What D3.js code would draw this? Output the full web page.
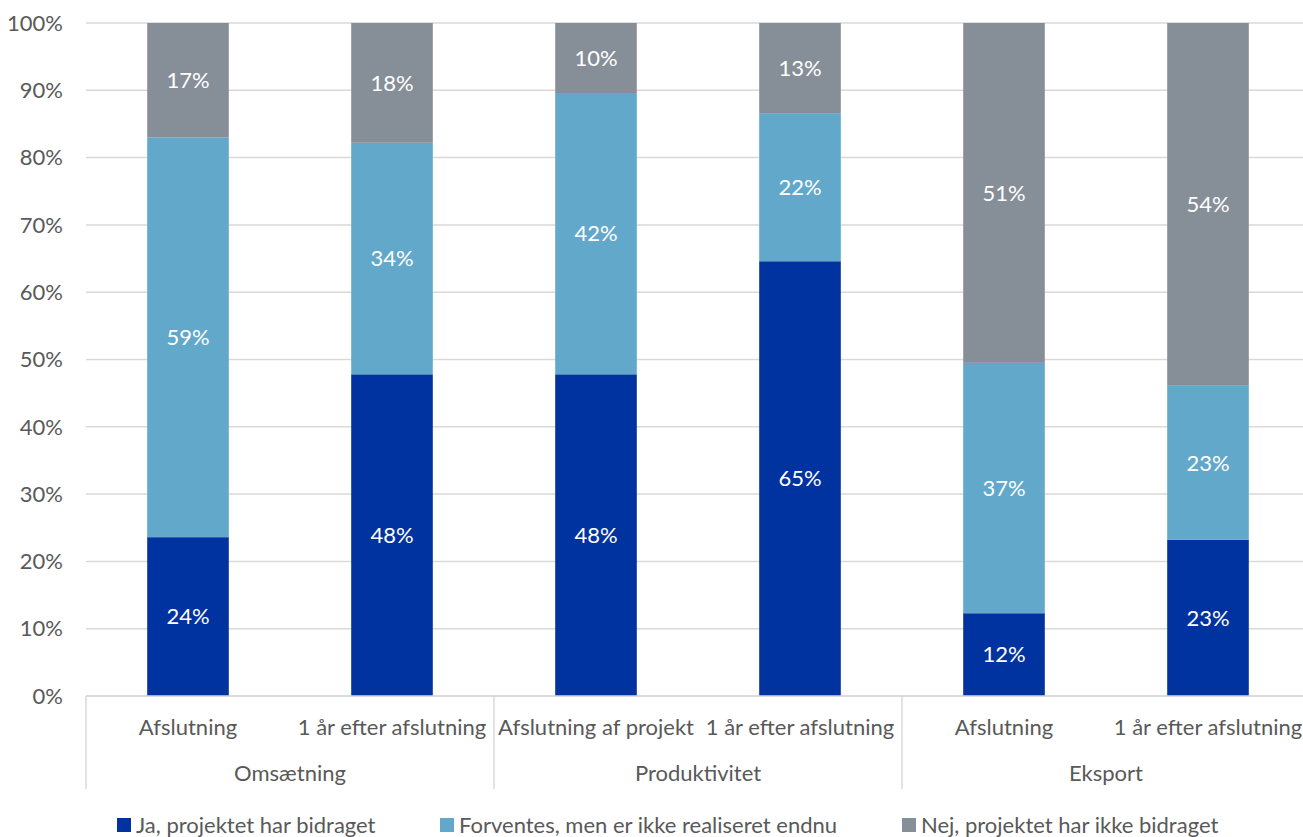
<!DOCTYPE html>
<html>
<head>
<meta charset="utf-8">
<script src="https://cdn.jsdelivr.net/npm/d3@7"></script>
<style>
  body { margin: 0; background: #fff; }
  text { font-family: Lato, "Open Sans", sans-serif; }
</style>
</head>
<body>
<script>
// Data
var groups = ['Omsætning', 'Produktivitet', 'Eksport'];
var bars = [
  { group: 'Omsætning', label: 'Afslutning' },
  { group: 'Omsætning', label: '1 år efter afslutning' },
  { group: 'Produktivitet', label: 'Afslutning af projekt' },
  { group: 'Produktivitet', label: '1 år efter afslutning' },
  { group: 'Eksport', label: 'Afslutning' },
  { group: 'Eksport', label: '1 år efter afslutning' }
];
var seriesNames = ['Ja, projektet har bidraget', 'Forventes, men er ikke realiseret endnu', 'Nej, projektet har ikke bidraget'];
var jaValues = [23.6, 47.8, 47.8, 64.6, 12.3, 23.2];
var forventesValues = [59.4, 34.4, 41.8, 22.0, 37.2, 22.9];
var nejValues = [17.0, 17.8, 10.4, 13.4, 50.5, 53.9];
var jaLabels = ['24%', '48%', '48%', '65%', '12%', '23%'];
var forventesLabels = ['59%', '34%', '42%', '22%', '37%', '23%'];
var nejLabels = ['17%', '18%', '10%', '13%', '51%', '54%'];
var yTicks = [0, 10, 20, 30, 40, 50, 60, 70, 80, 90, 100];

var COLORS = ['#0033A0', '#62A8CB', '#868E98'];
var TEXT_COLOR = '#595959';
var GRID_COLOR = '#D9D9D9';
var FONT_SIZE = 22;

var WIDTH = 1303, HEIGHT = 837;
// plot area runs a little past the right edge of the picture
var LEFT = 86, RIGHT = 1310, TOP = 23, BOTTOM = 696;

var svg = d3.select('body').append('svg')
  .attr('width', WIDTH)
  .attr('height', HEIGHT);

var x = d3.scaleBand()
  .domain(d3.range(bars.length))
  .range([LEFT, RIGHT])
  .paddingInner(0.6)
  .paddingOuter(0.3);

var y = d3.scaleLinear().domain([0, 100]).range([BOTTOM, TOP]);

// grid
svg.append('g').selectAll('line')
  .data(yTicks)
  .join('line')
  .attr('x1', LEFT).attr('x2', RIGHT)
  .attr('y1', function (d) { return y(d); })
  .attr('y2', function (d) { return y(d); })
  .attr('stroke', GRID_COLOR)
  .attr('stroke-width', 1.5);

// y labels
svg.append('g').selectAll('text')
  .data(yTicks)
  .join('text')
  .attr('x', 63)
  .attr('y', function (d) { return y(d); })
  .attr('dy', '0.35em')
  .attr('text-anchor', 'end')
  .attr('font-size', FONT_SIZE)
  .attr('fill', TEXT_COLOR)
  .text(function (d) { return d + '%'; });

// stacks
var rows = bars.map(function (b, i) {
  return { i: i, ja: jaValues[i], forventes: forventesValues[i], nej: nejValues[i] };
});
var keys = ['ja', 'forventes', 'nej'];
var labelArrays = [jaLabels, forventesLabels, nejLabels];
var stacked = d3.stack().keys(keys)(rows);

var layers = svg.append('g').selectAll('g')
  .data(stacked)
  .join('g')
  .attr('fill', function (d, k) { return COLORS[k]; });

layers.selectAll('rect')
  .data(function (d) { return d; })
  .join('rect')
  .attr('x', function (d) { return x(d.data.i); })
  .attr('width', x.bandwidth())
  .attr('y', function (d) { return y(d[1]); })
  .attr('height', function (d) { return y(d[0]) - y(d[1]); });

stacked.forEach(function (layer, k) {
  svg.append('g').selectAll('text')
    .data(layer)
    .join('text')
    .attr('x', function (d) { return x(d.data.i) + x.bandwidth() / 2; })
    .attr('y', function (d) { return y((d[0] + d[1]) / 2); })
    .attr('dy', '0.35em')
    .attr('text-anchor', 'middle')
    .attr('font-size', FONT_SIZE)
    .attr('fill', '#fff')
    .text(function (d) { return labelArrays[k][d.data.i]; });
});

// category axis
var step = (RIGHT - LEFT) / bars.length;
var axisG = svg.append('g');
axisG.append('line')
  .attr('x1', LEFT).attr('x2', RIGHT)
  .attr('y1', BOTTOM).attr('y2', BOTTOM)
  .attr('stroke', GRID_COLOR).attr('stroke-width', 1.5);

var sepX = [LEFT];
groups.forEach(function (g) {
  var last = d3.max(bars.map(function (b, i) { return b.group === g ? i : -1; }));
  sepX.push(LEFT + (last + 1) * step);
});
axisG.selectAll('line.sep')
  .data(sepX)
  .join('line')
  .attr('class', 'sep')
  .attr('x1', function (d) { return d; })
  .attr('x2', function (d) { return d; })
  .attr('y1', BOTTOM).attr('y2', 789)
  .attr('stroke', GRID_COLOR).attr('stroke-width', 1.5);

axisG.selectAll('text.cat')
  .data(bars)
  .join('text')
  .attr('class', 'cat')
  .attr('x', function (d, i) { return x(i) + x.bandwidth() / 2; })
  .attr('y', 727)
  .attr('dy', '0.35em')
  .attr('text-anchor', 'middle')
  .attr('font-size', FONT_SIZE)
  .attr('fill', TEXT_COLOR)
  .text(function (d) { return d.label; });

axisG.selectAll('text.grp')
  .data(groups)
  .join('text')
  .attr('class', 'grp')
  .attr('x', function (g, gi) { return (sepX[gi] + sepX[gi + 1]) / 2; })
  .attr('y', 773)
  .attr('dy', '0.35em')
  .attr('text-anchor', 'middle')
  .attr('font-size', FONT_SIZE)
  .attr('fill', TEXT_COLOR)
  .text(function (g) { return g; });

// legend
var legendX = [117, 440, 902];
var legend = svg.append('g').selectAll('g')
  .data(seriesNames)
  .join('g')
  .attr('transform', function (d, k) { return 'translate(' + legendX[k] + ',825)'; });
legend.append('rect')
  .attr('x', 0).attr('y', -7)
  .attr('width', 14).attr('height', 14)
  .attr('fill', function (d, k) { return COLORS[k]; });
legend.append('text')
  .attr('x', 19)
  .attr('dy', '0.35em')
  .attr('font-size', FONT_SIZE)
  .attr('fill', TEXT_COLOR)
  .text(function (d) { return d; });
</script>
</body>
</html>
